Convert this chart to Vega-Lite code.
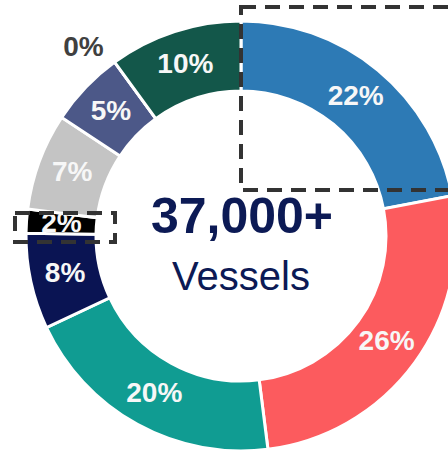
{
  "$schema": "https://vega.github.io/schema/vega-lite/v6.json",
  "width": 448,
  "height": 453,
  "autosize": {"type": "none"},
  "padding": 0,
  "background": "white",
  "config": {"view": {"stroke": null}},
  "datasets": {
    "slices": [
      {"order": 1, "segment": "A", "value": 22, "label": "22%"},
      {"order": 2, "segment": "B", "value": 26, "label": "26%"},
      {"order": 3, "segment": "C", "value": 20, "label": "20%"},
      {"order": 4, "segment": "D", "value": 7.2, "label": "8%"},
      {"order": 5, "segment": "E", "value": 1.8, "label": "2%"},
      {"order": 6, "segment": "F", "value": 7.3, "label": "7%"},
      {"order": 7, "segment": "G", "value": 5.7, "label": "5%"},
      {"order": 8, "segment": "H", "value": 0, "label": "0%"},
      {"order": 9, "segment": "I", "value": 10, "label": "10%"}
    ],
    "boxes": [
      {"left": 241, "right": 470, "top": 7, "bottom": 190},
      {"left": 15, "right": 115, "top": 213, "bottom": 242}
    ]
  },
  "layer": [
    {
      "data": {"name": "slices"},
      "mark": {"type": "arc", "x": 241, "y": 236, "radius": 215, "radius2": 145, "stroke": "white", "strokeWidth": 3},
      "encoding": {
        "theta": {"field": "value", "type": "quantitative", "stack": true},
        "order": {"field": "order", "type": "quantitative"},
        "color": {
          "field": "segment", "type": "nominal", "legend": null,
          "scale": {
            "domain": ["A", "B", "C", "D", "E", "F", "G", "H", "I"],
            "range": ["#2d7ab5", "#fc5b5e", "#109c92", "#0a1453", "#000000", "#c4c4c4", "#4c5888", "#ffffff", "#13574a"]
          }
        }
      }
    },
    {
      "data": {"name": "slices"},
      "mark": {"type": "text", "x": 241, "y": 236, "radius": 180, "font": "Liberation Sans", "fontSize": 28, "fontWeight": "bold", "fill": "#f7f7f7", "align": "center", "baseline": "middle"},
      "encoding": {
        "theta": {"field": "value", "type": "quantitative", "stack": true},
        "order": {"field": "order", "type": "quantitative"},
        "text": {"field": "label"},
        "opacity": {"condition": {"test": "datum.value > 0", "value": 1}, "value": 0}
      }
    },
    {
      "data": {"name": "slices"},
      "mark": {"type": "text", "x": 241, "y": 236, "radius": 245, "thetaOffset": -0.07, "font": "Liberation Sans", "fontSize": 28, "fontWeight": "bold", "fill": "#404040", "align": "center", "baseline": "middle"},
      "encoding": {
        "theta": {"field": "value", "type": "quantitative", "stack": true},
        "order": {"field": "order", "type": "quantitative"},
        "text": {"field": "label"},
        "opacity": {"condition": {"test": "datum.value == 0", "value": 1}, "value": 0}
      }
    },
    {
      "data": {"values": [{"headline": "37,000+"}]},
      "mark": {"type": "text", "x": 242, "y": 233, "font": "Liberation Sans", "fontSize": 50, "fontWeight": "bold", "fill": "#0c1a55", "align": "center", "baseline": "alphabetic"},
      "encoding": {"text": {"field": "headline"}}
    },
    {
      "data": {"values": [{"caption": "Vessels"}]},
      "mark": {"type": "text", "x": 241, "y": 290, "font": "Liberation Sans", "fontSize": 40, "fill": "#0c1a55", "align": "center", "baseline": "alphabetic"},
      "encoding": {"text": {"field": "caption"}}
    },
    {
      "data": {"name": "boxes"},
      "mark": {"type": "rect", "fill": null, "fillOpacity": 0, "stroke": "#333333", "strokeWidth": 4, "strokeDash": [15, 9], "clip": false},
      "encoding": {
        "x": {"field": "left", "type": "quantitative", "axis": null, "scale": {"domain": [0, 448], "nice": false, "zero": false}},
        "x2": {"field": "right"},
        "y": {"field": "top", "type": "quantitative", "axis": null, "scale": {"domain": [0, 453], "nice": false, "zero": false, "reverse": true}},
        "y2": {"field": "bottom"}
      }
    }
  ]
}
